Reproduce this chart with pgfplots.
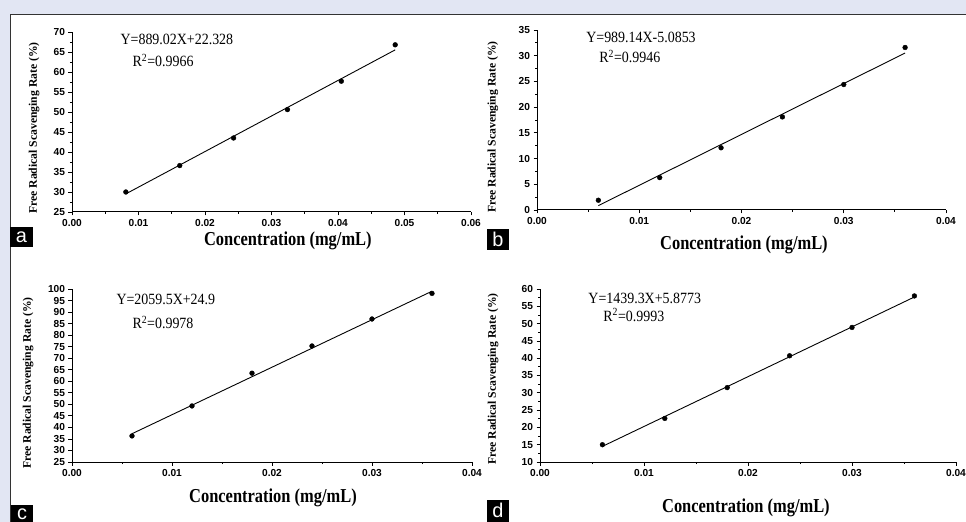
\documentclass[border=0pt]{standalone}
\usepackage{fontspec}
\setmainfont{Liberation Serif}
\newfontfamily\arialfont{Liberation Sans}
\usepackage{pgfplots}
\pgfplotsset{compat=1.18}
\definecolor{bgl}{RGB}{226,230,243}
\newcommand\eqtext[1]{\scalebox{1}[1.12]{#1}}
\tikzset{eq/.style={anchor=base west, font=\fontsize{14}{16}\selectfont},
  letter/.style={anchor=base, text=white, font=\arialfont\fontsize{20}{20}\selectfont, inner sep=0}}
\pgfplotsset{
 panel/.style={
  scale only axis,
  anchor=south west,
  axis lines*=left,
  axis line style={line width=1bp, -},
  tick align=outside,
  major tick length=3.5bp,
  minor tick length=2bp,
  tick style={line width=0.8bp, black},
  ticklabel style={font=\arialfont\bfseries\fontsize{10.2}{11}\selectfont},
  /pgf/number format/assume math mode=true,
  xticklabel style={/pgf/number format/fixed, /pgf/number format/fixed zerofill, /pgf/number format/precision=2},
  yticklabel style={/pgf/number format/fixed, /pgf/number format/precision=0},
  scaled x ticks=false,
  scaled y ticks=false,
  xlabel={\scalebox{1}[1.2]{Concentration (mg/mL)}},
  ylabel={Free Radical Scavenging Rate (\%)},
  xlabel style={font=\bfseries\fontsize{16.5}{18}\selectfont, anchor=center},
  ylabel style={font=\bfseries\fontsize{11.7}{13}\selectfont, anchor=center},
  xtick distance=0.01,
  minor x tick num=1,
  clip=false,
 },
 pts/.style={only marks, mark=*, mark size=2.4bp, black},
 fit/.style={no marks, black, line width=0.9bp},
}
\begin{document}
\begin{tikzpicture}
\useasboundingbox (0bp,0bp) rectangle (966bp,522bp);
\clip (0bp,0bp) rectangle (966bp,522bp);
\fill[bgl] (0bp,0bp) rectangle (966bp,522bp);
\fill[white] (10bp,0bp) rectangle (966bp,508bp);
\draw[line width=1.2bp, black!80] (10.6bp,0bp) -- (10.6bp,507.4bp) -- (966bp,507.4bp);

% panel a
\begin{axis}[panel, at={(72bp,310bp)}, width=399bp, height=180bp,
  xmin=0, xmax=0.06, ymin=25, ymax=70, ytick distance=5, minor y tick num=1,
  xlabel style={at={(axis description cs:0.541,-0.158)}},
  ylabel style={at={(axis description cs:-0.095,0.467)}}]
\addplot[fit] coordinates {(0.0081,29.53) (0.0486,65.53)};
\addplot[pts] coordinates {(0.0081,30.0) (0.0162,36.6) (0.0243,43.5) (0.0324,50.6) (0.0405,57.7) (0.0486,66.8)};
\node[eq] at (axis description cs:0.113,0.928) {\eqtext{Y=889.02X+22.328}};
\node[eq] at (axis description cs:0.143,0.806) {\eqtext{R\textsuperscript{2}=0.9966}};
\end{axis}

% panel b
\begin{axis}[panel, at={(537bp,312bp)}, width=409bp, height=180bp,
  xmin=0, xmax=0.04, ymin=0, ymax=35, ytick distance=5, minor y tick num=1,
  xlabel style={at={(axis description cs:0.506,-0.194)}},
  ylabel style={at={(axis description cs:-0.108,0.461)}}]
\addplot[fit] coordinates {(0.006,0.85) (0.036,30.52)};
\addplot[pts] coordinates {(0.006,1.9) (0.012,6.3) (0.018,12.1) (0.024,18.1) (0.030,24.4) (0.036,31.6)};
\node[eq] at (axis description cs:0.112,0.928) {\eqtext{Y=989.14X-5.0853}};
\node[eq] at (axis description cs:0.144,0.817) {\eqtext{R\textsuperscript{2}=0.9946}};
\end{axis}

% panel c
\begin{axis}[panel, at={(72bp,60bp)}, width=400bp, height=173bp,
  xmin=0, xmax=0.04, ymin=25, ymax=100, ytick distance=5,
  xlabel style={at={(axis description cs:0.5025,-0.208)}},
  ylabel style={at={(axis description cs:-0.11,0.457)}}]
\addplot[fit] coordinates {(0.006,37.26) (0.036,99.04)};
\addplot[pts] coordinates {(0.006,36.3) (0.012,49.3) (0.018,63.5) (0.024,75.3) (0.030,87.0) (0.036,98.1)};
\node[eq] at (axis description cs:0.1025,0.913) {\eqtext{Y=2059.5X+24.9}};
\node[eq] at (axis description cs:0.1425,0.769) {\eqtext{R\textsuperscript{2}=0.9978}};
\end{axis}

% panel d
\begin{axis}[panel, at={(540bp,60bp)}, width=416bp, height=173bp,
  xmin=0, xmax=0.04, ymin=10, ymax=60, ytick distance=5, minor y tick num=1,
  xlabel style={at={(axis description cs:0.495,-0.266)}},
  ylabel style={at={(axis description cs:-0.113,0.48)}}]
\addplot[fit] coordinates {(0.006,14.51) (0.036,57.69)};
\addplot[pts] coordinates {(0.006,15.0) (0.012,22.6) (0.018,31.5) (0.024,40.7) (0.030,48.9) (0.036,58.0)};
\node[eq] at (axis description cs:0.108,0.919) {\eqtext{Y=1439.3X+5.8773}};
\node[eq] at (axis description cs:0.144,0.815) {\eqtext{R\textsuperscript{2}=0.9993}};
\end{axis}

% panel letters
\fill[black] (10bp,275bp) rectangle (33bp,295bp);
\node[letter] at (21.5bp,279bp) {a};
\fill[black] (487bp,272bp) rectangle (509bp,293bp);
\node[letter] at (498bp,275bp) {b};
\fill[black] (11bp,-10bp) rectangle (33bp,17bp);
\node[letter] at (22bp,3bp) {c};
\fill[black] (487bp,-10bp) rectangle (509bp,22bp);
\node[letter] at (498bp,4.5bp) {d};
\end{tikzpicture}
\end{document}
